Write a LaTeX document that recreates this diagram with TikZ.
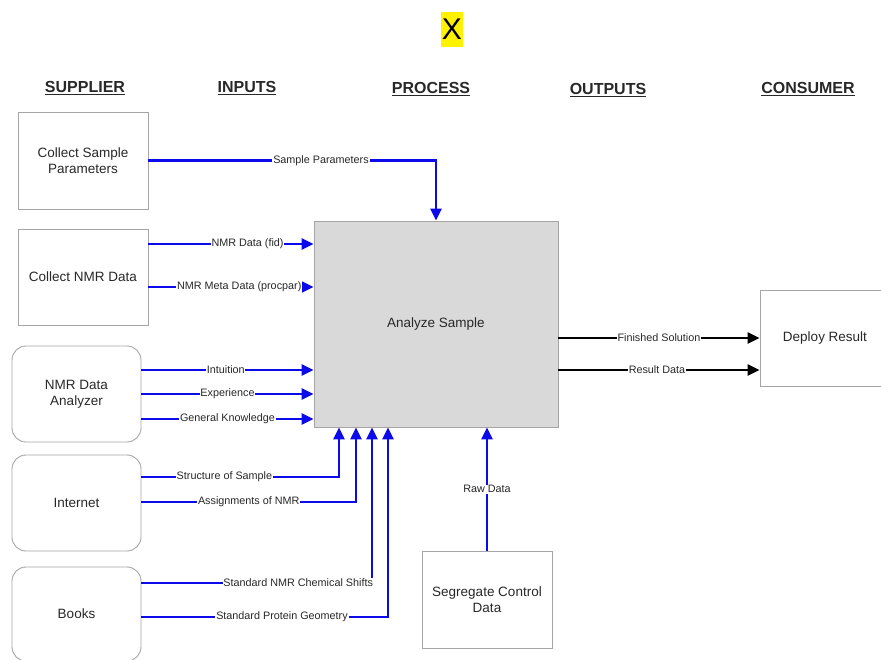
\documentclass[tikz,border=0pt]{standalone}
\usepackage{fontspec}
\setmainfont{Liberation Sans}
\usetikzlibrary{arrows.meta}
\definecolor{flowblue}{RGB}{10,10,235}
\definecolor{boxline}{RGB}{165,165,165}
\definecolor{txt}{RGB}{40,40,40}
\definecolor{procfill}{RGB}{217,217,217}
\tikzset{
  base/.style={draw=boxline, line width=0.9pt, text=txt, align=center, inner sep=0pt,
    font=\fontsize{13.5}{16}\selectfont},
  sqbox/.style={base, fill=white},
  rbox/.style={base, fill=white, rounded corners=14pt},
  header/.style={font=\fontsize{16}{18}\selectfont\bfseries, text=txt},
  flow/.style={draw=flowblue, line width=2.6pt, -{Triangle[length=12pt,width=11pt]}},
  outflow/.style={flow, draw=black},
  lbl/.style={fill=white, inner sep=0.8pt, text=txt, font=\fontsize{10.8}{12}\selectfont}
}
\begin{document}
\begin{tikzpicture}[x=1pt,y=-1pt]
\useasboundingbox (0,0) rectangle (881,659);
\clip (0,0) rectangle (881,659);

% title mark
\node[fill=yellow, minimum width=22pt, minimum height=35pt, inner sep=0pt,
  font=\fontsize{30}{32}\selectfont] (title) at (452,29.5) {X};

% column headings
\node[header] (hsup) at (85,88) {\underline{SUPPLIER}};
\node[header] (hin)  at (247,88) {\underline{INPUTS}};
\node[header] (hpro) at (431,89) {\underline{PROCESS}};
\node[header] (hout) at (608,90) {\underline{OUTPUTS}};
\node[header] (hcon) at (808,89) {\underline{CONSUMER}};

% suppliers
\node[sqbox, minimum width=130pt, minimum height=97pt] (csp) at (83,160.5) {Collect Sample\\Parameters};
\node[sqbox, minimum width=130pt, minimum height=96pt] (cnd) at (83,277) {Collect NMR Data};
\node[rbox, minimum width=129pt, minimum height=96pt] (nda) at (76.5,394) {NMR Data\\Analyzer};
\node[rbox, minimum width=129pt, minimum height=96pt] (inet) at (76.5,503) {Internet};
\node[rbox, minimum width=129pt, minimum height=94pt] (books) at (76.5,614) {Books};

% process
\node[base, fill=procfill, minimum width=244pt, minimum height=206pt] (as) at (436,324) {Analyze Sample};

% control and consumer
\node[sqbox, minimum width=130pt, minimum height=97pt] (scd) at (487,600) {Segregate Control\\Data};
\node[sqbox, minimum width=130pt, minimum height=96pt] (dr) at (825,338) {Deploy Result};

% inputs
\draw[flow] (csp.east) -| node[lbl, pos=0.3] {Sample Parameters} (as.north);
\draw[flow] (cnd.east |- 0,244) -- node[lbl, pos=0.6] {NMR Data (fid)} (as.west |- 0,244);
\draw[flow] (cnd.east |- 0,287) -- node[lbl, pos=0.55] {NMR Meta Data (procpar)} (as.west |- 0,287);
\draw[flow] (nda.east |- 0,370) -- node[lbl, pos=0.49] {Intuition} (as.west |- 0,370);
\draw[flow] (nda.east |- 0,394) -- node[lbl, pos=0.5] {Experience} (as.west |- 0,394);
\draw[flow] (nda.east |- 0,419) -- node[lbl, pos=0.5] {General Knowledge} (as.west |- 0,419);
\draw[flow] (inet.east |- 0,477) -| node[lbl, pos=0.21] {Structure of Sample} (as.south -| 339,0);
\draw[flow] (inet.east |- 0,502) -| node[lbl, pos=0.25] {Assignments of NMR} (as.south -| 356,0);
\draw[flow] (books.east |- 0,583) -| node[lbl, pos=0.34] {Standard NMR Chemical Shifts} (as.south -| 372,0);
\draw[flow] (books.east |- 0,617) -| node[lbl, pos=0.285] {Standard Protein Geometry} (as.south -| 388,0);

% control
\draw[flow] (scd.north) -- node[lbl, pos=0.5] {Raw Data} (as.south -| scd.north);

% outputs
\draw[outflow] (as.east |- dr.west) -- node[lbl, pos=0.5] {Finished Solution} (dr.west);
\draw[outflow] (as.east |- 0,370) -- node[lbl, pos=0.49] {Result Data} (dr.west |- 0,370);
\end{tikzpicture}
\end{document}
